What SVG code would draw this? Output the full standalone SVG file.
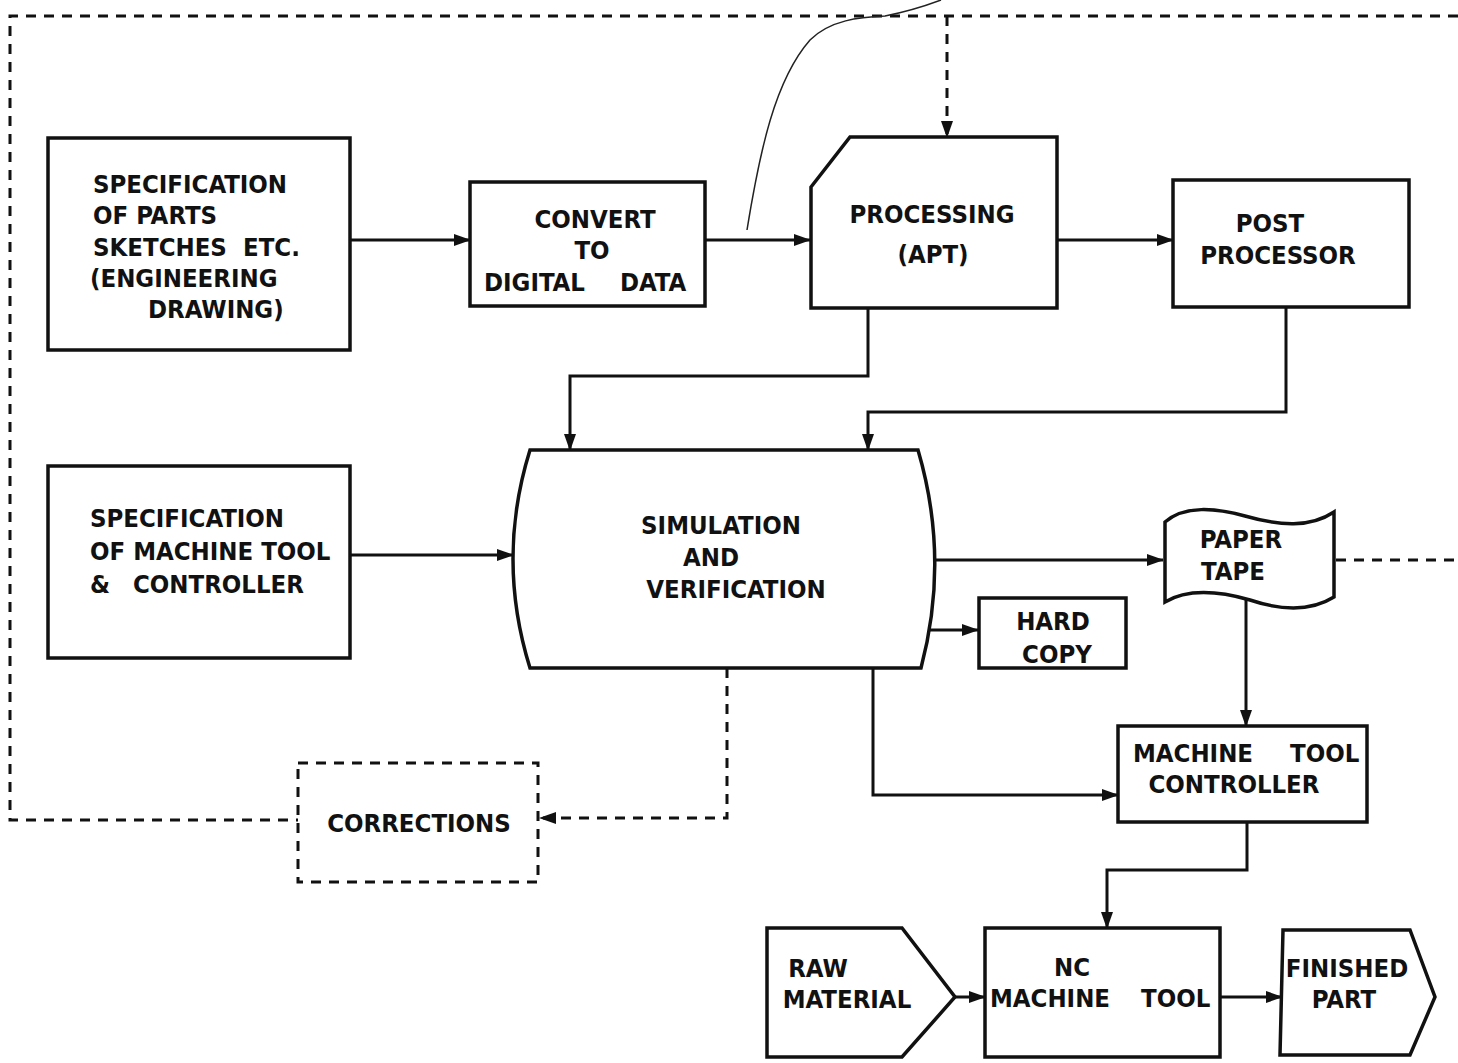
<svg xmlns="http://www.w3.org/2000/svg" width="1458" height="1063" viewBox="0 0 1458 1063">
<defs>
<marker id="ah" markerWidth="17" markerHeight="12" refX="16" refY="6" orient="auto" markerUnits="userSpaceOnUse">
<path d="M0,0 L17,6 L0,12 Z" fill="#111"/>
</marker>
<style>
.box{fill:none;stroke:#111;stroke-width:3.5;stroke-linejoin:miter}
.ln{fill:none;stroke:#111;stroke-width:3}
.dash{fill:none;stroke:#111;stroke-width:3;stroke-dasharray:10 8}
.t{font-family:"DejaVu Sans Condensed","Liberation Sans Narrow","Liberation Sans",sans-serif;font-weight:bold;font-size:25.5px;fill:#111}
.m{text-anchor:middle}
</style>
</defs>
<rect width="1458" height="1063" fill="#fff"/>

<g id="connectors">
<path class="dash" d="M1458,16 L10,16 L10,820 L298,820"/>
<path class="dash" d="M947,16 L947,137" marker-end="url(#ah)"/>
<path class="dash" d="M727,668 L727,818 L540,818" marker-end="url(#ah)"/>
<path class="dash" d="M1336,560 L1458,560"/>
<path class="ln" d="M350,240 L470,240" marker-end="url(#ah)"/>
<path class="ln" d="M705,240 L810,240" marker-end="url(#ah)"/>
<path class="ln" d="M1057,240 L1173,240" marker-end="url(#ah)"/>
<path class="ln" d="M868,308 L868,376 L570,376 L570,450" marker-end="url(#ah)"/>
<path class="ln" d="M1286,307 L1286,412 L868,412 L868,450" marker-end="url(#ah)"/>
<path class="ln" d="M350,555 L513,555" marker-end="url(#ah)"/>
<path class="ln" d="M936,560 L1163,560" marker-end="url(#ah)"/>
<path class="ln" d="M928,630 L978,630" marker-end="url(#ah)"/>
<path class="ln" d="M1246,600 L1246,726" marker-end="url(#ah)"/>
<path class="ln" d="M873,668 L873,795 L1118,795" marker-end="url(#ah)"/>
<path class="ln" d="M1247,822 L1247,870 L1107,870 L1107,928" marker-end="url(#ah)"/>
<path class="ln" d="M955,997 L985,997" marker-end="url(#ah)"/>
<path class="ln" d="M1220,997 L1282,997" marker-end="url(#ah)"/>
<path d="M747,230 C760,150 775,80 810,40 C830,20 860,17 885,16 C905,12 925,6 941,0" fill="none" stroke="#222" stroke-width="1.5"/>
</g>

<g id="spec-parts">
<rect class="box" x="48" y="138" width="302" height="212"/>
<text class="t" x="93" y="193">SPECIFICATION</text>
<text class="t" x="93" y="224">OF PARTS</text>
<text class="t" x="93" y="256">SKETCHES</text>
<text class="t" x="243" y="256">ETC.</text>
<text class="t" x="90" y="287">(ENGINEERING</text>
<text class="t" x="148" y="318">DRAWING)</text>
</g>

<g id="convert">
<rect class="box" x="470" y="182" width="235" height="124"/>
<text class="t m" x="595" y="228">CONVERT</text>
<text class="t m" x="592" y="259">TO</text>
<text class="t" x="484" y="291">DIGITAL</text>
<text class="t" x="620" y="291">DATA</text>
</g>

<g id="processing">
<path class="box" d="M850,137 L1057,137 L1057,308 L811,308 L811,187 Z"/>
<text class="t m" x="932" y="223">PROCESSING</text>
<text class="t m" x="933" y="263">(APT)</text>
</g>

<g id="post-processor">
<rect class="box" x="1173" y="180" width="236" height="127"/>
<text class="t m" x="1270" y="232">POST</text>
<text class="t m" x="1278" y="264">PROCESSOR</text>
</g>

<g id="simulation">
<path class="box" d="M530,450 L918,450 Q950,559 921,668 L530,668 Q496,559 530,450 Z"/>
<text class="t m" x="721" y="534">SIMULATION</text>
<text class="t m" x="711" y="566">AND</text>
<text class="t m" x="736" y="598">VERIFICATION</text>
</g>

<g id="spec-machine">
<rect class="box" x="48" y="466" width="302" height="192"/>
<text class="t" x="90" y="527">SPECIFICATION</text>
<text class="t" x="90" y="560">OF MACHINE TOOL</text>
<text class="t" x="90" y="593">&amp;</text>
<text class="t" x="133" y="593">CONTROLLER</text>
</g>

<g id="paper-tape">
<path class="box" d="M1165,522 C1185,505 1215,508 1245,516 C1280,526 1310,528 1334,512 L1334,597 C1310,612 1280,610 1250,600 C1215,590 1185,590 1165,602 Z"/>
<text class="t m" x="1241" y="548">PAPER</text>
<text class="t m" x="1233" y="580">TAPE</text>
</g>

<g id="hard-copy">
<rect class="box" x="979" y="598" width="147" height="70"/>
<text class="t m" x="1053" y="630">HARD</text>
<text class="t m" x="1057" y="663">COPY</text>
</g>

<g id="corrections">
<rect class="dash" x="298" y="763" width="240" height="119"/>
<text class="t m" x="419" y="832">CORRECTIONS</text>
</g>

<g id="controller">
<rect class="box" x="1118" y="726" width="249" height="96"/>
<text class="t" x="1133" y="762">MACHINE</text>
<text class="t" x="1290" y="762">TOOL</text>
<text class="t m" x="1234" y="793">CONTROLLER</text>
</g>

<g id="raw-material">
<path class="box" d="M767,928 L902,928 L955,997 L902,1057 L767,1057 Z"/>
<text class="t m" x="818" y="977">RAW</text>
<text class="t m" x="847" y="1008">MATERIAL</text>
</g>

<g id="nc-machine">
<rect class="box" x="985" y="928" width="235" height="129"/>
<text class="t m" x="1072" y="976">NC</text>
<text class="t" x="990" y="1007">MACHINE</text>
<text class="t" x="1141" y="1007">TOOL</text>
</g>

<g id="finished-part">
<path class="box" d="M1283,930 L1410,930 L1435,997 L1410,1055 L1280,1055 Z"/>
<text class="t m" x="1347" y="977">FINISHED</text>
<text class="t m" x="1344" y="1008">PART</text>
</g>
</svg>
